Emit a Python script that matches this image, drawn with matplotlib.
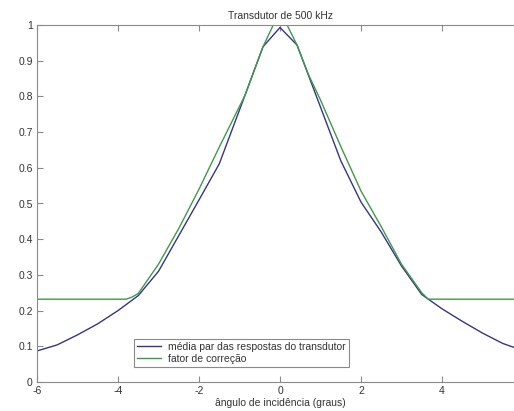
import matplotlib
matplotlib.use("Agg")
import matplotlib.pyplot as plt

plt.rcParams['font.family'] = ['Liberation Sans', 'DejaVu Sans']

title = "Transdutor de 500 kHz"
xlabel = "ângulo de incidência (graus)"
label_blue = "média par das respostas do transdutor"
label_green = "fator de correção"

blue_x = [-6, -5.5, -5, -4.5, -4, -3.5, -3, -2.5, -2, -1.5, -1, -0.42, 0,
          0.42, 1, 1.5, 2, 2.5, 3, 3.5, 4, 4.5, 5, 5.5, 6]
blue_y = [0.087, 0.104, 0.132, 0.163, 0.200, 0.242, 0.310, 0.410, 0.510, 0.611, 0.762, 0.939, 0.993,
          0.944, 0.770, 0.620, 0.504, 0.420, 0.325, 0.245, 0.205, 0.170, 0.137, 0.108, 0.088]

green_x = [-6, -3.8, -3.65, -3.5, -3, -2.5, -2, -1.5, -1, -0.86, -0.42, 0,
           0.42, 0.7, 1, 1.5, 2, 2.5, 3, 3.5, 3.66, 6]
green_y = [0.232, 0.232, 0.238, 0.248, 0.330, 0.430, 0.540, 0.658, 0.772, 0.804, 0.939, 1.04,
           0.944, 0.862, 0.790, 0.660, 0.535, 0.435, 0.330, 0.250, 0.232, 0.232]

xticks = [-6, -4, -2, 0, 2, 4]
yticks = [0, 0.1, 0.2, 0.3, 0.4, 0.5, 0.6, 0.7, 0.8, 0.9, 1]
yticklabels = ["0", "0.1", "0.2", "0.3", "0.4", "0.5", "0.6", "0.7", "0.8", "0.9", "1"]

fig = plt.figure(figsize=(5.14, 4.11), dpi=100)
ax = fig.add_axes([37/514, 29/411, 486/514, 357/411])

ax.plot(blue_x, blue_y, color='#35358a', lw=1.0, label=label_blue)
ax.plot(green_x, green_y, color='#3f9a48', lw=1.0, label=label_green)

ax.set_xlim(-6, 6)
ax.set_ylim(0, 1)
ax.set_xticks(xticks)
ax.set_xticklabels([str(t) for t in xticks])
ax.set_yticks(yticks)
ax.set_yticklabels(yticklabels)

for s in ax.spines.values():
    s.set_color('#8a8a8a')
    s.set_linewidth(0.8)
ax.tick_params(direction='in', length=4, width=0.8, color='#8a8a8a',
               labelsize=7.5, labelcolor='#333333', top=True, right=True, pad=3)

ax.set_title(title, fontsize=7.5, color='#333333', pad=4)
ax.set_xlabel(xlabel, fontsize=7.5, color='#333333', labelpad=1)

leg = ax.legend(loc='lower left', bbox_to_anchor=(0.1996, 0.043), fontsize=7.5,
                frameon=True, fancybox=False, framealpha=1, edgecolor='#8a8a8a',
                handlelength=2.3, borderpad=0.3, labelspacing=0.15, handletextpad=0.7,
                borderaxespad=0)
leg.get_frame().set_linewidth(0.8)
for t in leg.get_texts():
    t.set_color('#333333')

fig.savefig("out.png", dpi=100)
